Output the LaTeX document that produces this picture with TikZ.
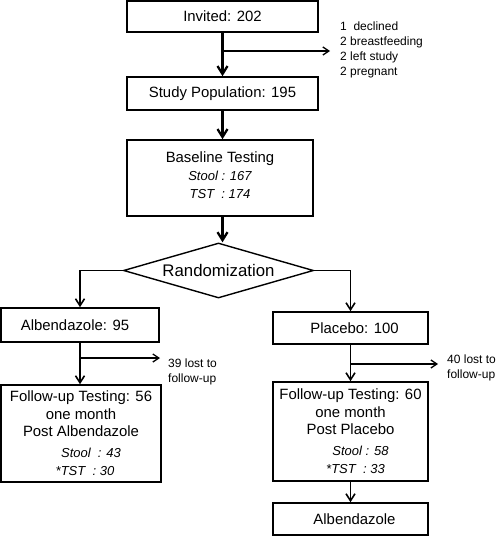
\documentclass[tikz,border=0pt]{standalone}
\usepackage{fontspec}
\setmainfont{Liberation Sans}
\usetikzlibrary{arrows.meta,shapes.geometric}
\newcommand\kursiv[1]{{\fontsize{13}{17}\selectfont\itshape #1}}

\begin{document}
\begin{tikzpicture}[x=1pt,y=-1pt,
		kasten/.style={draw, line width=1.6pt, inner sep=0pt, align=center, font=\fontsize{14.9}{17.5}\selectfont},
		haupt/.style={line width=2.3pt, -{Straight Barb[length=8pt,width=10pt]}},
		pfeil/.style={line width=1.6pt, -{Straight Barb[length=7pt,width=9pt]}},
		neben/.style={line width=1.3pt, -{Straight Barb[length=6pt,width=8pt]}},
		notiz/.style={align=left, inner sep=0pt, font=\fontsize{12}{15}\selectfont}]
		\useasboundingbox (0,0) rectangle (500,537);

		% Kaesten
		\node[kasten, minimum width=191pt, minimum height=31pt] (invited) at (222.5,16.5) {Invited: 202};
		\node[kasten, minimum width=191pt, minimum height=33pt] (population) at (222.5,93.5) {Study Population: 195};
		\node[kasten, minimum width=186pt, minimum height=76pt] (baseline) at (220,178)
			{Baseline Testing\\[1pt] \kursiv{Stool : 167}\\ \kursiv{TST\ \ : 174}\\[-11pt]};
		\node[draw, diamond, line width=1.4pt, aspect=3.45, minimum width=190pt, minimum height=55pt,
			inner sep=0pt, font=\fontsize{16.8}{20}\selectfont] (random) at (218.5,270.5) {Randomization};

		\node[kasten, minimum width=158pt, minimum height=34pt] (albendazole) at (80,325) {Albendazole: 95\hspace*{10pt}};
		\node[kasten, minimum width=160pt, minimum height=97pt] (followA) at (81,433.5)
			{Follow-up Testing: 56\\ one month\\ Post Albendazole\\[3pt]
			\hspace*{20pt}\kursiv{Stool\ \ : 43}\\[1pt] \hspace*{8pt}\kursiv{*TST\ \ : 30}};

		\node[kasten, minimum width=155pt, minimum height=32pt] (placebo) at (350.5,328) {\hspace*{8pt}Placebo: 100};
		\node[kasten, minimum width=155pt, minimum height=99pt] (followP) at (350.5,431.5)
			{Follow-up Testing: 60\\ one month\\ Post Placebo\\[3pt]
			\hspace*{20pt}\kursiv{Stool : 58}\\[1pt] \hspace*{10pt}\kursiv{*TST\ \ : 33}};
		\node[kasten, minimum width=155pt, minimum height=32pt] (albendazoleP) at (350.5,519) {\hspace*{8pt}Albendazole};

		% Notizen
		\node[notiz, anchor=west] (excluded) at (340,50) {1\ \ declined\\ 2 breastfeeding\\ 2 left study\\ 2 pregnant};
		\node[notiz, anchor=west] (lostA) at (168,372) {39 lost to\\ follow-up};
		\node[notiz, anchor=west] (lostP) at (447,368) {40 lost to\\ follow-up};

		% Koordinaten
		\coordinate (abzweig) at (222.5,51);
		\coordinate (abzweig_ende) at (330,51);
		\coordinate (abzweigA) at (80,358);
		\coordinate (abzweigA_ende) at (160,358);
		\coordinate (abzweigP) at (350.5,364);
		\coordinate (abzweigP_ende) at (438,364);

		% Pfeile
		\draw[haupt] (invited) -- (population);
		\draw[neben] (abzweig) -- (abzweig_ende);
		\draw[haupt] (population.south) -- (population.south |- baseline.north);
		\draw[haupt] (baseline.south -| invited.south) -- (random.north -| invited.south);

		\draw[pfeil] (random.west) -| (albendazole.north);
		\draw[pfeil] (random.east) -| (placebo.north);

		\draw[pfeil] (albendazole.south) -- (albendazole.south |- followA.north);
		\draw[neben] (abzweigA) -- (abzweigA_ende);
		\draw[pfeil] (placebo) -- (followP);
		\draw[neben] (abzweigP) -- (abzweigP_ende);
		\draw[pfeil] (followP) -- (albendazoleP);
	\end{tikzpicture}
\end{document}
